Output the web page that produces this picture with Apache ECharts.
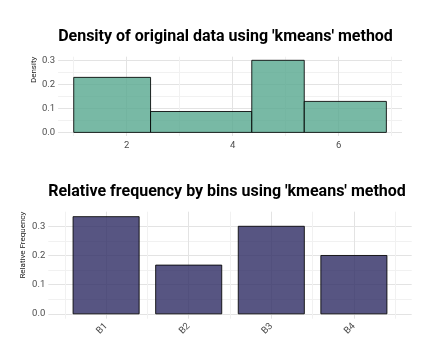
<!DOCTYPE html>
<html><head><meta charset="utf-8">
<script src="https://cdn.jsdelivr.net/npm/echarts@6/dist/echarts.min.js"></script>
<style>html,body{margin:0;padding:0;background:#fff}#c{width:432px;height:360px}</style>
</head><body><div id="c"></div>
<script>
// ---- data ----
const histBreaks = [1.0, 2.45, 4.36, 5.35, 6.90];
const histDensity = [0.229, 0.087, 0.300, 0.129];
const binLabels = ['B1', 'B2', 'B3', 'B4'];
const relFreq = [0.333, 0.167, 0.300, 0.200];
const topXTicks = [2, 4, 6];
const yTickLabels = ['0.0', '0.1', '0.2', '0.3'];
const title1 = "Density of original data using 'kmeans' method";
const title2 = "Relative frequency by bins using 'kmeans' method";

const FONT = 'Roboto, sans-serif';
const MAJOR = '#e3e3e3', MINOR = '#f1f1f1';

const histData = histDensity.map((d, i) => [histBreaks[i], histBreaks[i + 1], d]);
const barData = relFreq.map((v, i) => [i + 1, v]);

function yFmt(v) {
  const s = (Math.round(v * 100) / 100).toFixed(1);
  return yTickLabels.includes(s) && Math.abs(v * 10 - Math.round(v * 10)) < 1e-6 ? s : '';
}
const labelStyle = { color: '#4d4d4d', fontSize: 9.5, fontFamily: FONT };

const chart = echarts.init(document.getElementById('c'));
chart.setOption({
  animation: false,
  grid: [
    { left: 58.1, top: 56.7, width: 343.9, height: 79.3 },
    { left: 48.3, top: 211.7, width: 363.4, height: 107 }
  ],
  xAxis: [
    { type: 'value', gridIndex: 0, min: 0.705, max: 7.195, splitNumber: 5,
      axisLine: { show: false }, axisTick: { show: false },
      axisLabel: Object.assign({ margin: 5, showMinLabel: false, showMaxLabel: false,
        formatter: v => topXTicks.includes(Math.round(v * 1000) / 1000) ? String(v) : '' }, labelStyle),
      splitLine: { show: true, showMinLine: false, showMaxLine: false, lineStyle: { color: [MINOR, MAJOR], width: 1 } } },
    { type: 'value', gridIndex: 1, min: 0.3, max: 4.7, splitNumber: 9,
      axisLine: { show: false }, axisTick: { show: false },
      axisLabel: Object.assign({ margin: 6, rotate: 45, showMinLabel: false, showMaxLabel: false,
        formatter: v => { const k = Math.round(v * 1000) / 1000; return Number.isInteger(k) && binLabels[k - 1] ? binLabels[k - 1] : ''; } }, labelStyle),
      splitLine: { show: true, showMinLine: false, showMaxLine: false, lineStyle: { color: [MINOR, MAJOR], width: 1 } } }
  ],
  yAxis: [
    { type: 'value', gridIndex: 0, min: -0.015, max: 0.315, splitNumber: 7,
      axisLine: { show: false }, axisTick: { show: false },
      axisLabel: Object.assign({ margin: 3, showMinLabel: false, showMaxLabel: false, formatter: yFmt }, labelStyle),
      splitLine: { show: true, showMinLine: false, showMaxLine: false, lineStyle: { color: [MAJOR, MINOR], width: 1 } } },
    { type: 'value', gridIndex: 1, min: -0.01667, max: 0.35, splitNumber: 7,
      axisLine: { show: false }, axisTick: { show: false },
      axisLabel: Object.assign({ margin: 3, showMinLabel: false, showMaxLabel: false, formatter: yFmt }, labelStyle),
      splitLine: { show: true, showMinLine: false, showMaxLine: false, lineStyle: { color: [MAJOR, MINOR], width: 1 } } }
  ],
  series: [
    { type: 'custom', xAxisIndex: 0, yAxisIndex: 0, data: histData,
      encode: { x: [0, 1], y: 2 },
      renderItem: (params, api) => {
        const p0 = api.coord([api.value(0), api.value(2)]);
        const p1 = api.coord([api.value(1), 0]);
        return { type: 'rect', shape: { x: p0[0], y: p0[1], width: p1[0] - p0[0], height: p1[1] - p0[1] },
          style: { fill: 'rgba(86,168,143,0.8)', stroke: 'rgba(0,0,0,0.85)', lineWidth: 1 } };
      } },
    { type: 'custom', xAxisIndex: 1, yAxisIndex: 1, data: barData,
      encode: { x: 0, y: 1 },
      renderItem: (params, api) => {
        const x = api.value(0), v = api.value(1);
        const p0 = api.coord([x - 0.4, v]);
        const p1 = api.coord([x + 0.4, 0]);
        return { type: 'rect', shape: { x: p0[0], y: p0[1], width: p1[0] - p0[0], height: p1[1] - p0[1] },
          style: { fill: 'rgba(45,43,99,0.8)', stroke: 'rgba(0,0,0,0.85)', lineWidth: 1 } };
      } }
  ],
  graphic: [
    { type: 'text', x: 225.5, y: 36.5, style: { text: title1, align: 'center', verticalAlign: 'middle', fill: '#000',
      fontSize: 16, fontWeight: 'bold', fontFamily: FONT } },
    { type: 'text', x: 227, y: 191.5, style: { text: title2, align: 'center', verticalAlign: 'middle', fill: '#000',
      fontSize: 16, fontWeight: 'bold', fontFamily: FONT } },
    { type: 'text', x: 34, y: 56.7, rotation: Math.PI / 2, style: { text: 'Density', align: 'right', verticalAlign: 'middle',
      fill: '#1a1a1a', fontSize: 8, fontFamily: FONT } },
    { type: 'text', x: 22.7, y: 211.7, rotation: Math.PI / 2, style: { text: 'Relative Frequency', align: 'right', verticalAlign: 'middle',
      fill: '#1a1a1a', fontSize: 8, fontFamily: FONT } }
  ]
});
</script></body></html>
